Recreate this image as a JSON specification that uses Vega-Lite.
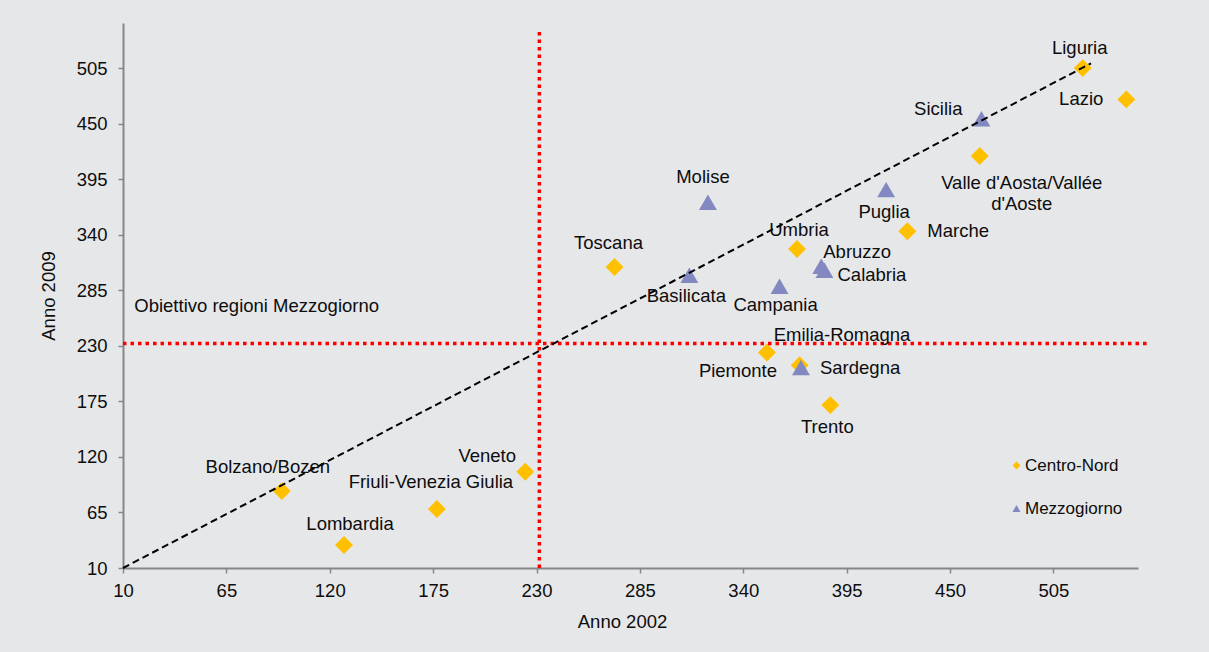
{
  "$schema": "https://vega.github.io/schema/vega-lite/v6.json",
  "width": 1015,
  "height": 545,
  "autosize": {"type": "none"},
  "padding": {"left": 123, "top": 23, "right": 71, "bottom": 84},
  "background": "#e6e7e9",
  "config": {
    "font": "Liberation Sans",
    "view": {"stroke": null},
    "text": {"fontSize": 18.5, "color": "#0d0d0d", "baseline": "middle", "align": "center"}
  },
  "data": {
    "values": [
      {"name": "Liguria", "group": "Centro-Nord", "x": 520.6, "y": 505.3},
      {"name": "Lazio", "group": "Centro-Nord", "x": 543.8, "y": 474.3},
      {"name": "Valle d'Aosta/Vallée\nd'Aoste", "group": "Centro-Nord", "x": 465.8, "y": 418.2},
      {"name": "Marche", "group": "Centro-Nord", "x": 427.3, "y": 343.6},
      {"name": "Umbria", "group": "Centro-Nord", "x": 368.6, "y": 326.1},
      {"name": "Toscana", "group": "Centro-Nord", "x": 271.5, "y": 308.3},
      {"name": "Piemonte", "group": "Centro-Nord", "x": 352.6, "y": 223.5},
      {"name": "Emilia-Romagna", "group": "Centro-Nord", "x": 370.0, "y": 211.0},
      {"name": "Trento", "group": "Centro-Nord", "x": 386.3, "y": 171.4},
      {"name": "Veneto", "group": "Centro-Nord", "x": 224.0, "y": 105.3},
      {"name": "Friuli-Venezia Giulia", "group": "Centro-Nord", "x": 177.0, "y": 68.4},
      {"name": "Bolzano/Bozen", "group": "Centro-Nord", "x": 94.5, "y": 86.2},
      {"name": "Lombardia", "group": "Centro-Nord", "x": 127.6, "y": 32.8},
      {"name": "Sicilia", "group": "Mezzogiorno", "x": 466.7, "y": 455.2},
      {"name": "Puglia", "group": "Mezzogiorno", "x": 416.0, "y": 384.9},
      {"name": "Molise", "group": "Mezzogiorno", "x": 321.2, "y": 372.3},
      {"name": "Abruzzo", "group": "Mezzogiorno", "x": 381.5, "y": 309.0},
      {"name": "Calabria", "group": "Mezzogiorno", "x": 383.2, "y": 305.0},
      {"name": "Basilicata", "group": "Mezzogiorno", "x": 311.3, "y": 300.0},
      {"name": "Campania", "group": "Mezzogiorno", "x": 359.3, "y": 289.2},
      {"name": "Sardegna", "group": "Mezzogiorno", "x": 370.7, "y": 208.7}
    ]
  },
  "encoding": {
    "x": {
      "field": "x", "type": "quantitative",
      "scale": {"domain": [10, 550], "nice": false, "zero": false},
      "axis": {
        "title": "Anno 2002", "values": [10, 65, 120, 175, 230, 285, 340, 395, 450, 505],
        "grid": false, "domainColor": "#878787", "domainWidth": 2,
        "tickColor": "#878787", "tickWidth": 1.5, "tickSize": 5,
        "labelFontSize": 18.5, "labelColor": "#0d0d0d", "labelPadding": 8, "labelOverlap": false, "labelFlush": false,
        "titleFontSize": 18.5, "titleFontWeight": "normal", "titleColor": "#0d0d0d", "titlePadding": 13, "titleX": 499
      }
    },
    "y": {
      "field": "y", "type": "quantitative",
      "scale": {"domain": [10, 550], "nice": false, "zero": false},
      "axis": {
        "title": "Anno 2009", "values": [10, 65, 120, 175, 230, 285, 340, 395, 450, 505],
        "grid": false, "domainColor": "#878787", "domainWidth": 2,
        "tickColor": "#878787", "tickWidth": 1.5, "tickSize": 5,
        "labelFontSize": 18.5, "labelColor": "#0d0d0d", "labelPadding": 11, "labelOverlap": false, "labelFlush": false,
        "titleFontSize": 18.5, "titleFontWeight": "normal", "titleColor": "#0d0d0d", "titlePadding": 18
      }
    }
  },
  "layer": [
    {
      "mark": {"type": "point", "filled": true, "size": 320, "opacity": 1, "strokeWidth": 0},
      "encoding": {
        "shape": {
          "field": "group", "type": "nominal",
          "scale": {"domain": ["Centro-Nord", "Mezzogiorno"], "range": ["diamond", "triangle-up"]},
          "legend": {
            "orient": "none", "legendX": 885, "legendY": 434, "title": null,
            "labelFontSize": 17, "labelColor": "#0d0d0d", "symbolSize": 64,
            "rowPadding": 25, "labelOffset": 0, "padding": 0, "symbolStrokeWidth": 0
          }
        },
        "color": {
          "field": "group", "type": "nominal",
          "scale": {"domain": ["Centro-Nord", "Mezzogiorno"], "range": ["#FFC000", "#8389C0"]},
          "legend": {
            "orient": "none", "legendX": 885, "legendY": 434, "title": null,
            "labelFontSize": 17, "labelColor": "#0d0d0d", "symbolSize": 64,
            "rowPadding": 25, "labelOffset": 0, "padding": 0, "symbolStrokeWidth": 0
          }
        }
      }
    },
    {
      "data": {"values": [{"x": 231.5, "y": 10, "y2": 543}]},
      "mark": {"type": "rule", "color": "#FF0000", "strokeWidth": 3.5, "strokeDash": [3.5, 4]},
      "encoding": {"y2": {"field": "y2"}}
    },
    {
      "data": {"values": [{"x": 10, "x2": 555.6, "y": 232.4}]},
      "mark": {"type": "rule", "color": "#FF0000", "strokeWidth": 3.5, "strokeDash": [3.5, 4]},
      "encoding": {"x2": {"field": "x2"}}
    },
    {
      "data": {"values": [{"x": 10, "y": 10}, {"x": 525, "y": 510}]},
      "mark": {"type": "line", "color": "#000000", "strokeWidth": 2, "strokeDash": [7, 4]},
      "encoding": {}
    },
    {
      "data": {"values": [{"x": 16, "y": 270, "label": "Obiettivo regioni Mezzogiorno"}]},
      "mark": {"type": "text", "align": "left"},
      "encoding": {"text": {"field": "label"}}
    },
    {"transform": [{"filter": {"field": "name", "equal": "Liguria"}}], "mark": {"type": "text", "dx": -3, "dy": -20}, "encoding": {"text": {"field": "name"}}},
    {"transform": [{"filter": {"field": "name", "equal": "Lazio"}}], "mark": {"type": "text", "align": "right", "dx": -23, "dy": 0}, "encoding": {"text": {"field": "name"}}},
    {"transform": [{"filter": {"field": "name", "equal": "Valle d'Aosta/Vallée\nd'Aoste"}}], "mark": {"type": "text", "dx": 42, "dy": 27, "lineBreak": "\n", "lineHeight": 21}, "encoding": {"text": {"field": "name"}}},
    {"transform": [{"filter": {"field": "name", "equal": "Marche"}}], "mark": {"type": "text", "align": "left", "dx": 20, "dy": 0}, "encoding": {"text": {"field": "name"}}},
    {"transform": [{"filter": {"field": "name", "equal": "Umbria"}}], "mark": {"type": "text", "dx": 2, "dy": -19}, "encoding": {"text": {"field": "name"}}},
    {"transform": [{"filter": {"field": "name", "equal": "Toscana"}}], "mark": {"type": "text", "dx": -6, "dy": -24}, "encoding": {"text": {"field": "name"}}},
    {"transform": [{"filter": {"field": "name", "equal": "Piemonte"}}], "mark": {"type": "text", "dx": -29, "dy": 18}, "encoding": {"text": {"field": "name"}}},
    {"transform": [{"filter": {"field": "name", "equal": "Emilia-Romagna"}}], "mark": {"type": "text", "align": "left", "dx": -26, "dy": -30}, "encoding": {"text": {"field": "name"}}},
    {"transform": [{"filter": {"field": "name", "equal": "Trento"}}], "mark": {"type": "text", "dx": -3, "dy": 22}, "encoding": {"text": {"field": "name"}}},
    {"transform": [{"filter": {"field": "name", "equal": "Veneto"}}], "mark": {"type": "text", "dx": -38, "dy": -16}, "encoding": {"text": {"field": "name"}}},
    {"transform": [{"filter": {"field": "name", "equal": "Friuli-Venezia Giulia"}}], "mark": {"type": "text", "dx": -6, "dy": -27}, "encoding": {"text": {"field": "name"}}},
    {"transform": [{"filter": {"field": "name", "equal": "Bolzano/Bozen"}}], "mark": {"type": "text", "dx": -14, "dy": -24}, "encoding": {"text": {"field": "name"}}},
    {"transform": [{"filter": {"field": "name", "equal": "Lombardia"}}], "mark": {"type": "text", "dx": 6, "dy": -21}, "encoding": {"text": {"field": "name"}}},
    {"transform": [{"filter": {"field": "name", "equal": "Sicilia"}}], "mark": {"type": "text", "align": "right", "dx": -19, "dy": -10}, "encoding": {"text": {"field": "name"}}},
    {"transform": [{"filter": {"field": "name", "equal": "Puglia"}}], "mark": {"type": "text", "dx": -2, "dy": 22}, "encoding": {"text": {"field": "name"}}},
    {"transform": [{"filter": {"field": "name", "equal": "Molise"}}], "mark": {"type": "text", "dx": -5, "dy": -25}, "encoding": {"text": {"field": "name"}}},
    {"transform": [{"filter": {"field": "name", "equal": "Abruzzo"}}], "mark": {"type": "text", "align": "left", "dx": 2, "dy": -14}, "encoding": {"text": {"field": "name"}}},
    {"transform": [{"filter": {"field": "name", "equal": "Calabria"}}], "mark": {"type": "text", "align": "left", "dx": 13, "dy": 5}, "encoding": {"text": {"field": "name"}}},
    {"transform": [{"filter": {"field": "name", "equal": "Basilicata"}}], "mark": {"type": "text", "dx": -3, "dy": 21}, "encoding": {"text": {"field": "name"}}},
    {"transform": [{"filter": {"field": "name", "equal": "Campania"}}], "mark": {"type": "text", "dx": -4, "dy": 19}, "encoding": {"text": {"field": "name"}}},
    {"transform": [{"filter": {"field": "name", "equal": "Sardegna"}}], "mark": {"type": "text", "align": "left", "dx": 19, "dy": 1}, "encoding": {"text": {"field": "name"}}}
  ]
}
